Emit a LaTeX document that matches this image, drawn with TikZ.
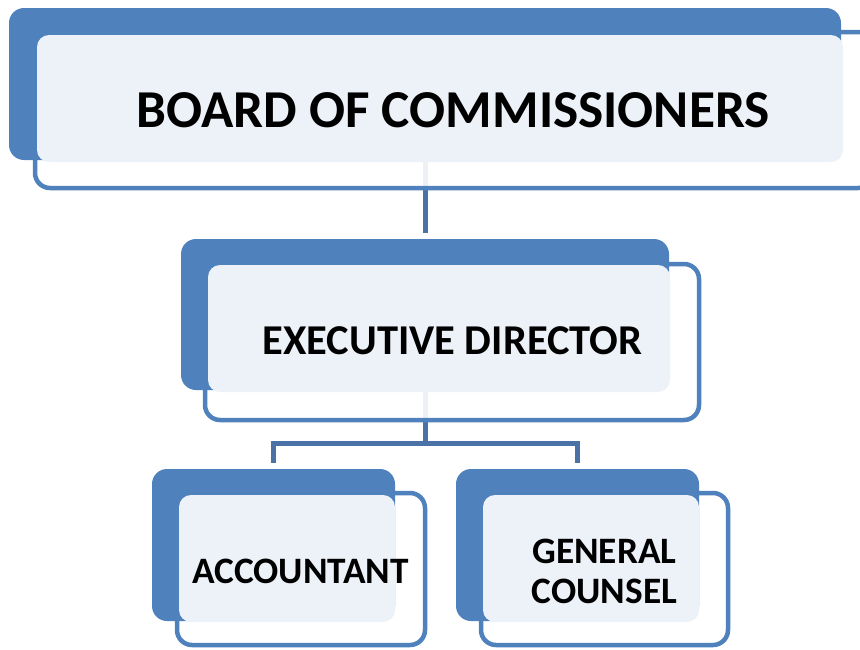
\documentclass[tikz,border=0pt]{standalone}
\usepackage{fontspec}
\setmainfont{Carlito}
\definecolor{boxblue}{HTML}{4F81BD}
\definecolor{boxlight}{HTML}{EDF2F9}
\definecolor{connblue}{HTML}{4A72A6}
\tikzset{
  backbox/.style={fill=boxblue, draw=none, rounded corners=15pt, inner sep=0pt},
  outbox/.style={draw=boxblue, line width=4.5pt, fill=white, fill opacity=0.9, draw opacity=1, rounded corners=15pt, inner sep=0pt},
  lightbox/.style={fill=boxlight, draw=none, rounded corners=12pt, inner sep=0pt},
  label/.style={inner sep=0pt, align=center, font=\bfseries},
  anchorbox/.style={inner sep=0pt},
  conn/.style={draw=connblue, line width=5pt}
}
\begin{document}
\begin{tikzpicture}[x=1pt,y=-1pt]
\clip (0,0) rectangle (860,649);
\fill[white] (0,0) rectangle (860,649);
% anchors of the back boxes for the connectors
\node[anchorbox, minimum width=832pt, minimum height=152pt] (b1b) at (425,84) {};
\node[anchorbox, minimum width=488pt, minimum height=151pt] (b2b) at (425,314.5) {};
\node[anchorbox, minimum width=243pt, minimum height=152pt] (b3b) at (273.5,545) {};
\node[anchorbox, minimum width=243pt, minimum height=152pt] (b4b) at (577.5,545) {};
\coordinate (j) at (425,443);
% connectors
\draw[conn, shorten >=6pt] (b1b.south) -- (b2b.north);
\draw[conn] (b2b.south) -- (j);
\draw[conn, shorten >=6pt] (j) -| (b3b.north);
\draw[conn, shorten >=6pt] (j) -| (b4b.north);
% top unit
\node[outbox, minimum width=838pt, minimum height=156pt] (b1o) at (454,110) {};
\node[backbox, minimum width=832pt, minimum height=152pt] at (b1b) {};
\node[lightbox, minimum width=806pt, minimum height=127pt] (b1l) at (440,98.5) {};
\node[label, font=\bfseries\fontsize{53.3}{58}\selectfont] (t1) at (453,110) {BOARD OF COMMISSIONERS};
% executive unit
\node[outbox, minimum width=494pt, minimum height=156pt] (b2o) at (452,342) {};
\node[backbox, minimum width=488pt, minimum height=151pt] at (b2b) {};
\node[lightbox, minimum width=462pt, minimum height=127pt] (b2l) at (439,328.5) {};
\node[label, font=\bfseries\fontsize{42.5}{48}\selectfont] (t2) at (452.5,341) {EXECUTIVE DIRECTOR};
% accountant unit
\node[outbox, minimum width=248pt, minimum height=152pt] (b3o) at (301,569) {};
\node[backbox, minimum width=243pt, minimum height=152pt] at (b3b) {};
\node[lightbox, minimum width=216pt, minimum height=127pt] (b3l) at (287,558.5) {};
\node[label, font=\bfseries\fontsize{37.3}{42}\selectfont] (t3) at (300.5,571) {ACCOUNTANT};
% general counsel unit
\node[outbox, minimum width=247pt, minimum height=152pt] (b4o) at (604.5,569) {};
\node[backbox, minimum width=243pt, minimum height=152pt] at (b4b) {};
\node[lightbox, minimum width=216pt, minimum height=127pt] (b4l) at (591,558.5) {};
\node[label, font=\bfseries\fontsize{37.3}{40}\selectfont] (t4) at (604.5,571) {GENERAL\\COUNSEL};
\end{tikzpicture}
\end{document}
